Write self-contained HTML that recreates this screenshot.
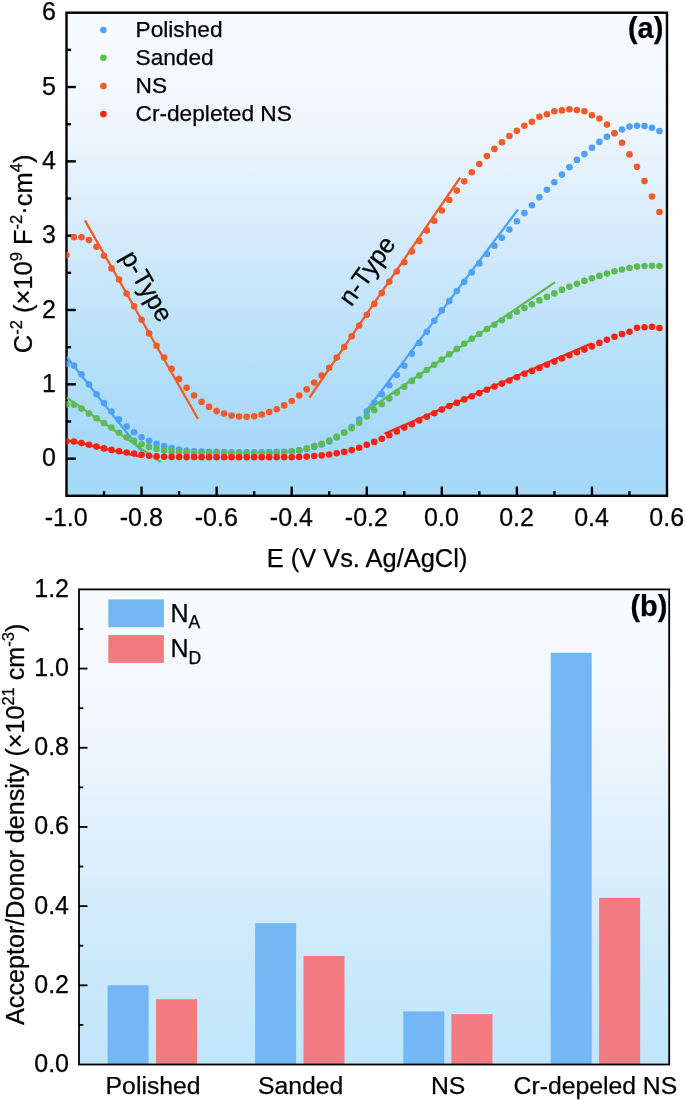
<!DOCTYPE html>
<html lang="en">
<head>
<meta charset="utf-8">
<title>Mott-Schottky plots and acceptor/donor density</title>
<style>
html,body{margin:0;padding:0;background:#fff;}
body{width:685px;height:1101px;overflow:hidden;}
svg{display:block;will-change:transform;}
</style>
</head>
<body>
<svg width="685" height="1101" viewBox="0 0 685 1101" font-family="'Liberation Sans', Arial, Helvetica, sans-serif" fill="#000">
<style>text{stroke:#000;stroke-width:0.25px;stroke-linejoin:round;}</style>
<defs>
<linearGradient id="ga" x1="0" y1="0" x2="0" y2="1"><stop offset="0" stop-color="#f8fbfe"/><stop offset="0.18" stop-color="#f3f8fd"/><stop offset="0.346" stop-color="#e3f1fc"/><stop offset="0.512" stop-color="#cfe8fb"/><stop offset="0.657" stop-color="#bce2f9"/><stop offset="0.864" stop-color="#a8daf8"/><stop offset="1" stop-color="#a6d9f8"/></linearGradient>
<linearGradient id="gb" x1="0" y1="0" x2="0" y2="1"><stop offset="0" stop-color="#f8fbfe"/><stop offset="0.25" stop-color="#f3f8fd"/><stop offset="0.5" stop-color="#e1f0fc"/><stop offset="0.75" stop-color="#cdeafb"/><stop offset="1" stop-color="#c0e5fa"/></linearGradient>
<clipPath id="ca"><rect x="66.5" y="12.7" width="600.5" height="483.1"/></clipPath>
</defs>
<rect width="685" height="1101" fill="#fff"/>
<rect x="66.5" y="12.7" width="600.50" height="483.10" fill="url(#ga)"/>
<g stroke="#000" stroke-width="2.4" fill="none" stroke-linecap="butt">
<rect x="66.5" y="12.7" width="600.50" height="483.10"/>
<line x1="66.5" y1="458.64" x2="75.8" y2="458.64"/>
<line x1="66.5" y1="384.32" x2="75.8" y2="384.32"/>
<line x1="66.5" y1="309.99" x2="75.8" y2="309.99"/>
<line x1="66.5" y1="235.67" x2="75.8" y2="235.67"/>
<line x1="66.5" y1="161.35" x2="75.8" y2="161.35"/>
<line x1="66.5" y1="87.02" x2="75.8" y2="87.02"/>
<line x1="66.5" y1="421.48" x2="71.1" y2="421.48"/>
<line x1="66.5" y1="347.15" x2="71.1" y2="347.15"/>
<line x1="66.5" y1="272.83" x2="71.1" y2="272.83"/>
<line x1="66.5" y1="198.51" x2="71.1" y2="198.51"/>
<line x1="66.5" y1="124.18" x2="71.1" y2="124.18"/>
<line x1="66.5" y1="49.86" x2="71.1" y2="49.86"/>
<line x1="141.56" y1="495.8" x2="141.56" y2="486.5"/>
<line x1="216.62" y1="495.8" x2="216.62" y2="486.5"/>
<line x1="291.69" y1="495.8" x2="291.69" y2="486.5"/>
<line x1="366.75" y1="495.8" x2="366.75" y2="486.5"/>
<line x1="441.81" y1="495.8" x2="441.81" y2="486.5"/>
<line x1="516.88" y1="495.8" x2="516.88" y2="486.5"/>
<line x1="591.94" y1="495.8" x2="591.94" y2="486.5"/>
<line x1="104.03" y1="495.8" x2="104.03" y2="491.2"/>
<line x1="179.09" y1="495.8" x2="179.09" y2="491.2"/>
<line x1="254.16" y1="495.8" x2="254.16" y2="491.2"/>
<line x1="329.22" y1="495.8" x2="329.22" y2="491.2"/>
<line x1="404.28" y1="495.8" x2="404.28" y2="491.2"/>
<line x1="479.34" y1="495.8" x2="479.34" y2="491.2"/>
<line x1="554.41" y1="495.8" x2="554.41" y2="491.2"/>
<line x1="629.47" y1="495.8" x2="629.47" y2="491.2"/>
</g>
<g clip-path="url(#ca)">
<line x1="66.5" y1="356.8" x2="141.6" y2="451.2" stroke="#4fa1f7" stroke-width="2.3" stroke-linecap="butt"/>
<line x1="366.4" y1="410.9" x2="518.0" y2="209.5" stroke="#4fa1f7" stroke-width="2.3" stroke-linecap="butt"/>
<g fill="#4fa1f7">
<circle cx="66.5" cy="363.9" r="3.3"/>
<circle cx="74.0" cy="365.6" r="3.3"/>
<circle cx="81.5" cy="374.2" r="3.3"/>
<circle cx="89.0" cy="384.3" r="3.3"/>
<circle cx="96.5" cy="394.3" r="3.3"/>
<circle cx="104.0" cy="403.1" r="3.3"/>
<circle cx="111.5" cy="411.5" r="3.3"/>
<circle cx="119.0" cy="419.4" r="3.3"/>
<circle cx="126.6" cy="426.5" r="3.3"/>
<circle cx="134.1" cy="432.3" r="3.3"/>
<circle cx="141.6" cy="437.2" r="3.3"/>
<circle cx="149.1" cy="440.8" r="3.3"/>
<circle cx="156.6" cy="443.8" r="3.3"/>
<circle cx="164.1" cy="446.0" r="3.3"/>
<circle cx="171.6" cy="448.1" r="3.3"/>
<circle cx="179.1" cy="449.6" r="3.3"/>
<circle cx="186.6" cy="450.7" r="3.3"/>
<circle cx="194.1" cy="451.2" r="3.3"/>
<circle cx="201.6" cy="451.6" r="3.3"/>
<circle cx="209.1" cy="451.8" r="3.3"/>
<circle cx="216.6" cy="451.9" r="3.3"/>
<circle cx="224.1" cy="452.1" r="3.3"/>
<circle cx="231.6" cy="452.2" r="3.3"/>
<circle cx="239.1" cy="452.2" r="3.3"/>
<circle cx="246.7" cy="452.2" r="3.3"/>
<circle cx="254.2" cy="452.2" r="3.3"/>
<circle cx="261.7" cy="452.2" r="3.3"/>
<circle cx="269.2" cy="452.1" r="3.3"/>
<circle cx="276.7" cy="451.9" r="3.3"/>
<circle cx="284.2" cy="451.7" r="3.3"/>
<circle cx="291.7" cy="451.2" r="3.3"/>
<circle cx="299.2" cy="450.3" r="3.3"/>
<circle cx="306.7" cy="449.0" r="3.3"/>
<circle cx="314.2" cy="447.0" r="3.3"/>
<circle cx="321.7" cy="444.5" r="3.3"/>
<circle cx="329.2" cy="441.6" r="3.3"/>
<circle cx="336.7" cy="437.5" r="3.3"/>
<circle cx="344.2" cy="432.6" r="3.3"/>
<circle cx="351.7" cy="427.1" r="3.3"/>
<circle cx="359.2" cy="419.5" r="3.3"/>
<circle cx="366.8" cy="411.3" r="3.3"/>
<circle cx="374.3" cy="402.8" r="3.3"/>
<circle cx="381.8" cy="394.3" r="3.3"/>
<circle cx="389.3" cy="385.3" r="3.3"/>
<circle cx="396.8" cy="375.0" r="3.3"/>
<circle cx="404.3" cy="365.7" r="3.3"/>
<circle cx="411.8" cy="353.8" r="3.3"/>
<circle cx="419.3" cy="342.9" r="3.3"/>
<circle cx="426.8" cy="331.8" r="3.3"/>
<circle cx="434.3" cy="320.8" r="3.3"/>
<circle cx="441.8" cy="310.4" r="3.3"/>
<circle cx="449.3" cy="301.1" r="3.3"/>
<circle cx="456.8" cy="291.1" r="3.3"/>
<circle cx="464.3" cy="281.7" r="3.3"/>
<circle cx="471.8" cy="272.4" r="3.3"/>
<circle cx="479.3" cy="263.4" r="3.3"/>
<circle cx="486.9" cy="254.0" r="3.3"/>
<circle cx="494.4" cy="245.7" r="3.3"/>
<circle cx="501.9" cy="237.7" r="3.3"/>
<circle cx="509.4" cy="229.5" r="3.3"/>
<circle cx="516.9" cy="221.3" r="3.3"/>
<circle cx="524.4" cy="213.1" r="3.3"/>
<circle cx="531.9" cy="205.3" r="3.3"/>
<circle cx="539.4" cy="197.3" r="3.3"/>
<circle cx="546.9" cy="189.7" r="3.3"/>
<circle cx="554.4" cy="182.2" r="3.3"/>
<circle cx="561.9" cy="174.6" r="3.3"/>
<circle cx="569.4" cy="167.2" r="3.3"/>
<circle cx="576.9" cy="159.9" r="3.3"/>
<circle cx="584.4" cy="154.1" r="3.3"/>
<circle cx="591.9" cy="147.7" r="3.3"/>
<circle cx="599.4" cy="141.9" r="3.3"/>
<circle cx="606.9" cy="136.8" r="3.3"/>
<circle cx="614.5" cy="133.3" r="3.3"/>
<circle cx="622.0" cy="129.5" r="3.3"/>
<circle cx="629.5" cy="126.6" r="3.3"/>
<circle cx="637.0" cy="125.7" r="3.3"/>
<circle cx="644.5" cy="126.0" r="3.3"/>
<circle cx="652.0" cy="127.8" r="3.3"/>
<circle cx="659.5" cy="131.0" r="3.3"/>
</g>
<line x1="66.5" y1="397.5" x2="160.7" y2="462.1" stroke="#5dbb54" stroke-width="2.3" stroke-linecap="butt"/>
<line x1="366.8" y1="410.7" x2="555.2" y2="282.1" stroke="#5dbb54" stroke-width="2.3" stroke-linecap="butt"/>
<g fill="#5dbb54">
<circle cx="66.5" cy="404.4" r="3.3"/>
<circle cx="74.0" cy="404.7" r="3.3"/>
<circle cx="81.5" cy="408.6" r="3.3"/>
<circle cx="89.0" cy="413.6" r="3.3"/>
<circle cx="96.5" cy="418.3" r="3.3"/>
<circle cx="104.0" cy="423.0" r="3.3"/>
<circle cx="111.5" cy="427.6" r="3.3"/>
<circle cx="119.0" cy="432.8" r="3.3"/>
<circle cx="126.6" cy="437.2" r="3.3"/>
<circle cx="134.1" cy="440.8" r="3.3"/>
<circle cx="141.6" cy="444.3" r="3.3"/>
<circle cx="149.1" cy="446.9" r="3.3"/>
<circle cx="156.6" cy="449.0" r="3.3"/>
<circle cx="164.1" cy="450.5" r="3.3"/>
<circle cx="171.6" cy="451.4" r="3.3"/>
<circle cx="179.1" cy="452.0" r="3.3"/>
<circle cx="186.6" cy="452.5" r="3.3"/>
<circle cx="194.1" cy="452.7" r="3.3"/>
<circle cx="201.6" cy="453.0" r="3.3"/>
<circle cx="209.1" cy="453.1" r="3.3"/>
<circle cx="216.6" cy="453.3" r="3.3"/>
<circle cx="224.1" cy="453.4" r="3.3"/>
<circle cx="231.6" cy="453.5" r="3.3"/>
<circle cx="239.1" cy="453.6" r="3.3"/>
<circle cx="246.7" cy="453.7" r="3.3"/>
<circle cx="254.2" cy="453.6" r="3.3"/>
<circle cx="261.7" cy="453.5" r="3.3"/>
<circle cx="269.2" cy="453.3" r="3.3"/>
<circle cx="276.7" cy="453.1" r="3.3"/>
<circle cx="284.2" cy="452.5" r="3.3"/>
<circle cx="291.7" cy="451.6" r="3.3"/>
<circle cx="299.2" cy="450.4" r="3.3"/>
<circle cx="306.7" cy="448.4" r="3.3"/>
<circle cx="314.2" cy="446.0" r="3.3"/>
<circle cx="321.7" cy="443.8" r="3.3"/>
<circle cx="329.2" cy="440.5" r="3.3"/>
<circle cx="336.7" cy="436.9" r="3.3"/>
<circle cx="344.2" cy="432.8" r="3.3"/>
<circle cx="351.7" cy="428.2" r="3.3"/>
<circle cx="359.2" cy="422.7" r="3.3"/>
<circle cx="366.8" cy="416.5" r="3.3"/>
<circle cx="374.3" cy="410.1" r="3.3"/>
<circle cx="381.8" cy="404.2" r="3.3"/>
<circle cx="389.3" cy="398.4" r="3.3"/>
<circle cx="396.8" cy="392.6" r="3.3"/>
<circle cx="404.3" cy="386.7" r="3.3"/>
<circle cx="411.8" cy="380.9" r="3.3"/>
<circle cx="419.3" cy="375.6" r="3.3"/>
<circle cx="426.8" cy="370.0" r="3.3"/>
<circle cx="434.3" cy="364.8" r="3.3"/>
<circle cx="441.8" cy="359.6" r="3.3"/>
<circle cx="449.3" cy="354.2" r="3.3"/>
<circle cx="456.8" cy="348.9" r="3.3"/>
<circle cx="464.3" cy="343.7" r="3.3"/>
<circle cx="471.8" cy="338.7" r="3.3"/>
<circle cx="479.3" cy="334.0" r="3.3"/>
<circle cx="486.9" cy="329.1" r="3.3"/>
<circle cx="494.4" cy="324.7" r="3.3"/>
<circle cx="501.9" cy="320.3" r="3.3"/>
<circle cx="509.4" cy="315.9" r="3.3"/>
<circle cx="516.9" cy="311.8" r="3.3"/>
<circle cx="524.4" cy="308.0" r="3.3"/>
<circle cx="531.9" cy="304.2" r="3.3"/>
<circle cx="539.4" cy="300.4" r="3.3"/>
<circle cx="546.9" cy="296.9" r="3.3"/>
<circle cx="554.4" cy="293.4" r="3.3"/>
<circle cx="561.9" cy="289.9" r="3.3"/>
<circle cx="569.4" cy="286.7" r="3.3"/>
<circle cx="576.9" cy="283.8" r="3.3"/>
<circle cx="584.4" cy="280.9" r="3.3"/>
<circle cx="591.9" cy="278.2" r="3.3"/>
<circle cx="599.4" cy="275.9" r="3.3"/>
<circle cx="606.9" cy="273.6" r="3.3"/>
<circle cx="614.5" cy="271.2" r="3.3"/>
<circle cx="622.0" cy="269.5" r="3.3"/>
<circle cx="629.5" cy="268.0" r="3.3"/>
<circle cx="637.0" cy="266.6" r="3.3"/>
<circle cx="644.5" cy="266.0" r="3.3"/>
<circle cx="652.0" cy="265.7" r="3.3"/>
<circle cx="659.5" cy="266.0" r="3.3"/>
</g>
<line x1="84.9" y1="220.4" x2="197.9" y2="418.8" stroke="#f25a2a" stroke-width="2.3" stroke-linecap="butt"/>
<line x1="309.5" y1="397.5" x2="460.2" y2="177.5" stroke="#f25a2a" stroke-width="2.3" stroke-linecap="butt"/>
<g fill="#f25a2a">
<circle cx="66.5" cy="255.0" r="3.3"/>
<circle cx="74.0" cy="237.2" r="3.3"/>
<circle cx="81.5" cy="237.2" r="3.3"/>
<circle cx="89.0" cy="240.1" r="3.3"/>
<circle cx="96.5" cy="246.8" r="3.3"/>
<circle cx="104.0" cy="255.7" r="3.3"/>
<circle cx="111.5" cy="268.4" r="3.3"/>
<circle cx="119.0" cy="279.5" r="3.3"/>
<circle cx="126.6" cy="293.6" r="3.3"/>
<circle cx="134.1" cy="306.3" r="3.3"/>
<circle cx="141.6" cy="319.7" r="3.3"/>
<circle cx="149.1" cy="333.4" r="3.3"/>
<circle cx="156.6" cy="345.7" r="3.3"/>
<circle cx="164.1" cy="357.6" r="3.3"/>
<circle cx="171.6" cy="368.7" r="3.3"/>
<circle cx="179.1" cy="379.1" r="3.3"/>
<circle cx="186.6" cy="387.7" r="3.3"/>
<circle cx="194.1" cy="395.5" r="3.3"/>
<circle cx="201.6" cy="401.9" r="3.3"/>
<circle cx="209.1" cy="406.9" r="3.3"/>
<circle cx="216.6" cy="411.1" r="3.3"/>
<circle cx="224.1" cy="413.6" r="3.3"/>
<circle cx="231.6" cy="415.6" r="3.3"/>
<circle cx="239.1" cy="416.5" r="3.3"/>
<circle cx="246.7" cy="416.8" r="3.3"/>
<circle cx="254.2" cy="416.2" r="3.3"/>
<circle cx="261.7" cy="414.5" r="3.3"/>
<circle cx="269.2" cy="412.1" r="3.3"/>
<circle cx="276.7" cy="409.2" r="3.3"/>
<circle cx="284.2" cy="405.4" r="3.3"/>
<circle cx="291.7" cy="401.0" r="3.3"/>
<circle cx="299.2" cy="395.5" r="3.3"/>
<circle cx="306.7" cy="389.4" r="3.3"/>
<circle cx="314.2" cy="382.6" r="3.3"/>
<circle cx="321.7" cy="375.6" r="3.3"/>
<circle cx="329.2" cy="367.7" r="3.3"/>
<circle cx="336.7" cy="357.6" r="3.3"/>
<circle cx="344.2" cy="347.0" r="3.3"/>
<circle cx="351.7" cy="336.3" r="3.3"/>
<circle cx="359.2" cy="325.5" r="3.3"/>
<circle cx="366.8" cy="314.7" r="3.3"/>
<circle cx="374.3" cy="303.9" r="3.3"/>
<circle cx="381.8" cy="293.1" r="3.3"/>
<circle cx="389.3" cy="281.7" r="3.3"/>
<circle cx="396.8" cy="271.5" r="3.3"/>
<circle cx="404.3" cy="262.2" r="3.3"/>
<circle cx="411.8" cy="251.6" r="3.3"/>
<circle cx="419.3" cy="240.9" r="3.3"/>
<circle cx="426.8" cy="230.4" r="3.3"/>
<circle cx="434.3" cy="220.7" r="3.3"/>
<circle cx="441.8" cy="210.5" r="3.3"/>
<circle cx="449.3" cy="200.0" r="3.3"/>
<circle cx="456.8" cy="190.6" r="3.3"/>
<circle cx="464.3" cy="181.3" r="3.3"/>
<circle cx="471.8" cy="172.2" r="3.3"/>
<circle cx="479.3" cy="164.0" r="3.3"/>
<circle cx="486.9" cy="156.1" r="3.3"/>
<circle cx="494.4" cy="148.9" r="3.3"/>
<circle cx="501.9" cy="142.2" r="3.3"/>
<circle cx="509.4" cy="136.0" r="3.3"/>
<circle cx="516.9" cy="130.7" r="3.3"/>
<circle cx="524.4" cy="125.7" r="3.3"/>
<circle cx="531.9" cy="121.7" r="3.3"/>
<circle cx="539.4" cy="116.8" r="3.3"/>
<circle cx="546.9" cy="114.2" r="3.3"/>
<circle cx="554.4" cy="111.2" r="3.3"/>
<circle cx="561.9" cy="110.4" r="3.3"/>
<circle cx="569.4" cy="109.2" r="3.3"/>
<circle cx="576.9" cy="110.1" r="3.3"/>
<circle cx="584.4" cy="111.2" r="3.3"/>
<circle cx="591.9" cy="115.3" r="3.3"/>
<circle cx="599.4" cy="118.5" r="3.3"/>
<circle cx="606.9" cy="124.6" r="3.3"/>
<circle cx="614.5" cy="133.3" r="3.3"/>
<circle cx="622.0" cy="142.8" r="3.3"/>
<circle cx="629.5" cy="154.4" r="3.3"/>
<circle cx="637.0" cy="166.7" r="3.3"/>
<circle cx="644.5" cy="181.0" r="3.3"/>
<circle cx="652.0" cy="196.5" r="3.3"/>
<circle cx="659.5" cy="212.0" r="3.3"/>
</g>
<line x1="66.5" y1="440.1" x2="141.6" y2="456.9" stroke="#fd2014" stroke-width="2.3" stroke-linecap="butt"/>
<line x1="384.5" y1="433.7" x2="591.9" y2="343.3" stroke="#fd2014" stroke-width="2.3" stroke-linecap="butt"/>
<g fill="#fd2014">
<circle cx="66.5" cy="441.2" r="3.3"/>
<circle cx="74.0" cy="441.5" r="3.3"/>
<circle cx="81.5" cy="443.1" r="3.3"/>
<circle cx="89.0" cy="444.8" r="3.3"/>
<circle cx="96.5" cy="446.6" r="3.3"/>
<circle cx="104.0" cy="448.4" r="3.3"/>
<circle cx="111.5" cy="449.9" r="3.3"/>
<circle cx="119.0" cy="451.3" r="3.3"/>
<circle cx="126.6" cy="452.5" r="3.3"/>
<circle cx="134.1" cy="453.6" r="3.3"/>
<circle cx="141.6" cy="454.8" r="3.3"/>
<circle cx="149.1" cy="455.7" r="3.3"/>
<circle cx="156.6" cy="456.4" r="3.3"/>
<circle cx="164.1" cy="456.7" r="3.3"/>
<circle cx="171.6" cy="456.9" r="3.3"/>
<circle cx="179.1" cy="457.0" r="3.3"/>
<circle cx="186.6" cy="457.1" r="3.3"/>
<circle cx="194.1" cy="457.1" r="3.3"/>
<circle cx="201.6" cy="457.2" r="3.3"/>
<circle cx="209.1" cy="457.2" r="3.3"/>
<circle cx="216.6" cy="457.2" r="3.3"/>
<circle cx="224.1" cy="457.3" r="3.3"/>
<circle cx="231.6" cy="457.3" r="3.3"/>
<circle cx="239.1" cy="457.3" r="3.3"/>
<circle cx="246.7" cy="457.3" r="3.3"/>
<circle cx="254.2" cy="457.3" r="3.3"/>
<circle cx="261.7" cy="457.3" r="3.3"/>
<circle cx="269.2" cy="457.3" r="3.3"/>
<circle cx="276.7" cy="457.2" r="3.3"/>
<circle cx="284.2" cy="457.2" r="3.3"/>
<circle cx="291.7" cy="457.2" r="3.3"/>
<circle cx="299.2" cy="456.9" r="3.3"/>
<circle cx="306.7" cy="456.6" r="3.3"/>
<circle cx="314.2" cy="456.0" r="3.3"/>
<circle cx="321.7" cy="455.4" r="3.3"/>
<circle cx="329.2" cy="454.5" r="3.3"/>
<circle cx="336.7" cy="453.3" r="3.3"/>
<circle cx="344.2" cy="451.9" r="3.3"/>
<circle cx="351.7" cy="450.1" r="3.3"/>
<circle cx="359.2" cy="447.8" r="3.3"/>
<circle cx="366.8" cy="444.8" r="3.3"/>
<circle cx="374.3" cy="441.9" r="3.3"/>
<circle cx="381.8" cy="438.7" r="3.3"/>
<circle cx="389.3" cy="435.2" r="3.3"/>
<circle cx="396.8" cy="431.4" r="3.3"/>
<circle cx="404.3" cy="427.6" r="3.3"/>
<circle cx="411.8" cy="424.2" r="3.3"/>
<circle cx="419.3" cy="420.4" r="3.3"/>
<circle cx="426.8" cy="416.8" r="3.3"/>
<circle cx="434.3" cy="413.2" r="3.3"/>
<circle cx="441.8" cy="409.6" r="3.3"/>
<circle cx="449.3" cy="406.0" r="3.3"/>
<circle cx="456.8" cy="402.9" r="3.3"/>
<circle cx="464.3" cy="399.4" r="3.3"/>
<circle cx="471.8" cy="396.2" r="3.3"/>
<circle cx="479.3" cy="393.1" r="3.3"/>
<circle cx="486.9" cy="389.8" r="3.3"/>
<circle cx="494.4" cy="386.6" r="3.3"/>
<circle cx="501.9" cy="383.6" r="3.3"/>
<circle cx="509.4" cy="380.5" r="3.3"/>
<circle cx="516.9" cy="377.3" r="3.3"/>
<circle cx="524.4" cy="373.8" r="3.3"/>
<circle cx="531.9" cy="370.9" r="3.3"/>
<circle cx="539.4" cy="367.9" r="3.3"/>
<circle cx="546.9" cy="364.7" r="3.3"/>
<circle cx="554.4" cy="361.6" r="3.3"/>
<circle cx="561.9" cy="358.4" r="3.3"/>
<circle cx="569.4" cy="355.2" r="3.3"/>
<circle cx="576.9" cy="352.2" r="3.3"/>
<circle cx="584.4" cy="349.6" r="3.3"/>
<circle cx="591.9" cy="346.4" r="3.3"/>
<circle cx="599.4" cy="342.9" r="3.3"/>
<circle cx="606.9" cy="339.8" r="3.3"/>
<circle cx="614.5" cy="336.8" r="3.3"/>
<circle cx="622.0" cy="334.1" r="3.3"/>
<circle cx="629.5" cy="331.8" r="3.3"/>
<circle cx="637.0" cy="327.7" r="3.3"/>
<circle cx="644.5" cy="327.2" r="3.3"/>
<circle cx="652.0" cy="326.8" r="3.3"/>
<circle cx="659.5" cy="328.1" r="3.3"/>
</g>
</g>
<g font-size="25">
<text x="56.0" y="466.1" text-anchor="end">0</text>
<text x="56.0" y="391.8" text-anchor="end">1</text>
<text x="56.0" y="317.5" text-anchor="end">2</text>
<text x="56.0" y="243.2" text-anchor="end">3</text>
<text x="56.0" y="168.8" text-anchor="end">4</text>
<text x="56.0" y="94.5" text-anchor="end">5</text>
<text x="56.0" y="20.2" text-anchor="end">6</text>
<text x="66.2" y="526.1" text-anchor="middle">-1.0</text>
<text x="141.3" y="526.1" text-anchor="middle">-0.8</text>
<text x="216.3" y="526.1" text-anchor="middle">-0.6</text>
<text x="291.4" y="526.1" text-anchor="middle">-0.4</text>
<text x="366.4" y="526.1" text-anchor="middle">-0.2</text>
<text x="441.5" y="526.1" text-anchor="middle">0.0</text>
<text x="516.6" y="526.1" text-anchor="middle">0.2</text>
<text x="591.6" y="526.1" text-anchor="middle">0.4</text>
<text x="666.7" y="526.1" text-anchor="middle">0.6</text>
</g>
<g font-size="22.7">
<circle cx="103.4" cy="30.0" r="3.3" fill="#4fa1f7"/>
<text x="135.5" y="37.3">Polished</text>
<circle cx="103.4" cy="57.7" r="3.3" fill="#5dbb54"/>
<text x="135.5" y="65.0">Sanded</text>
<circle cx="103.4" cy="86.0" r="3.3" fill="#f25a2a"/>
<text x="135.5" y="93.3">NS</text>
<circle cx="103.4" cy="114.1" r="3.3" fill="#fd2014"/>
<text x="135.5" y="121.4">Cr-depleted NS</text>
</g>
<text x="663.3" y="37.9" font-size="28.9" font-weight="bold" text-anchor="end">(a)</text>
<text font-size="25.3" text-anchor="middle" transform="translate(139.6,290.5) rotate(60)">p-Type</text>
<text font-size="25.6" text-anchor="middle" transform="translate(373.9,275.7) rotate(-54.5)">n-Type</text>
<text x="367.0" y="566.7" font-size="25.45" text-anchor="middle">E (V Vs. Ag/AgCl)</text>
<text font-size="25.5" text-anchor="middle" transform="translate(31.5,253.9) rotate(-90)">C<tspan font-size="16.5" dy="-9.5">-2</tspan><tspan dy="9.5"> (×10</tspan><tspan font-size="16.5" dy="-9.5">9</tspan><tspan dy="9.5"> F</tspan><tspan font-size="16.5" dy="-9.5">-2</tspan><tspan dy="9.5">·cm</tspan><tspan font-size="16.5" dy="-9.5">4</tspan><tspan dy="9.5">)</tspan></text>
<rect x="79.0" y="589.4" width="590.20" height="475.10" fill="url(#gb)"/>
<rect x="107.6" y="985.3" width="41.0" height="79.2" fill="#73b8f5"/>
<rect x="156.0" y="999.2" width="41.0" height="65.3" fill="#f37a80"/>
<rect x="255.1" y="923.2" width="41.0" height="141.3" fill="#73b8f5"/>
<rect x="303.5" y="956.0" width="41.0" height="108.5" fill="#f37a80"/>
<rect x="403.3" y="1011.4" width="41.0" height="53.1" fill="#73b8f5"/>
<rect x="451.4" y="1014.2" width="41.0" height="50.3" fill="#f37a80"/>
<rect x="550.7" y="652.7" width="41.0" height="411.8" fill="#73b8f5"/>
<rect x="599.1" y="897.8" width="41.0" height="166.7" fill="#f37a80"/>
<g stroke="#000" stroke-width="1.8" fill="none">
<rect x="79.0" y="589.4" width="590.20" height="475.10"/>
<line x1="79.0" y1="985.32" x2="87.5" y2="985.32"/>
<line x1="79.0" y1="906.13" x2="87.5" y2="906.13"/>
<line x1="79.0" y1="826.95" x2="87.5" y2="826.95"/>
<line x1="79.0" y1="747.77" x2="87.5" y2="747.77"/>
<line x1="79.0" y1="668.58" x2="87.5" y2="668.58"/>
<line x1="79.0" y1="1024.91" x2="83.3" y2="1024.91"/>
<line x1="79.0" y1="945.73" x2="83.3" y2="945.73"/>
<line x1="79.0" y1="866.54" x2="83.3" y2="866.54"/>
<line x1="79.0" y1="787.36" x2="83.3" y2="787.36"/>
<line x1="79.0" y1="708.17" x2="83.3" y2="708.17"/>
<line x1="79.0" y1="628.99" x2="83.3" y2="628.99"/>
</g>
<g font-size="25">
<text x="69" y="1072.0" text-anchor="end">0.0</text>
<text x="69" y="992.8" text-anchor="end">0.2</text>
<text x="69" y="913.6" text-anchor="end">0.4</text>
<text x="69" y="834.4" text-anchor="end">0.6</text>
<text x="69" y="755.3" text-anchor="end">0.8</text>
<text x="69" y="676.1" text-anchor="end">1.0</text>
<text x="69" y="596.9" text-anchor="end">1.2</text>
<text x="153.1" y="1094" font-size="24.75" text-anchor="middle">Polished</text>
<text x="300.6" y="1094" font-size="24.75" text-anchor="middle">Sanded</text>
<text x="448.1" y="1094" font-size="24.75" text-anchor="middle">NS</text>
<text x="595.4" y="1094" font-size="24.75" text-anchor="middle">Cr-depeled NS</text>
</g>
<rect x="108.3" y="599.4" width="55.6" height="27.8" fill="#73b8f5"/>
<rect x="108.3" y="635.1" width="55.6" height="27.8" fill="#f37a80"/>
<text x="170.4" y="621.5" font-size="25">N<tspan font-size="17.5" dy="6.8">A</tspan></text>
<text x="170.4" y="657.2" font-size="25">N<tspan font-size="17.5" dy="6.8">D</tspan></text>
<text x="667.4" y="616.0" font-size="28.9" font-weight="bold" text-anchor="end">(b)</text>
<text font-size="25.15" text-anchor="middle" transform="translate(23.6,824.3) rotate(-90)">Acceptor/Donor density (×10<tspan font-size="16.5" dy="-9.5">21</tspan><tspan dy="9.5"> cm</tspan><tspan font-size="16.5" dy="-9.5">-3</tspan><tspan dy="9.5">)</tspan></text>
</svg>
</body>
</html>
